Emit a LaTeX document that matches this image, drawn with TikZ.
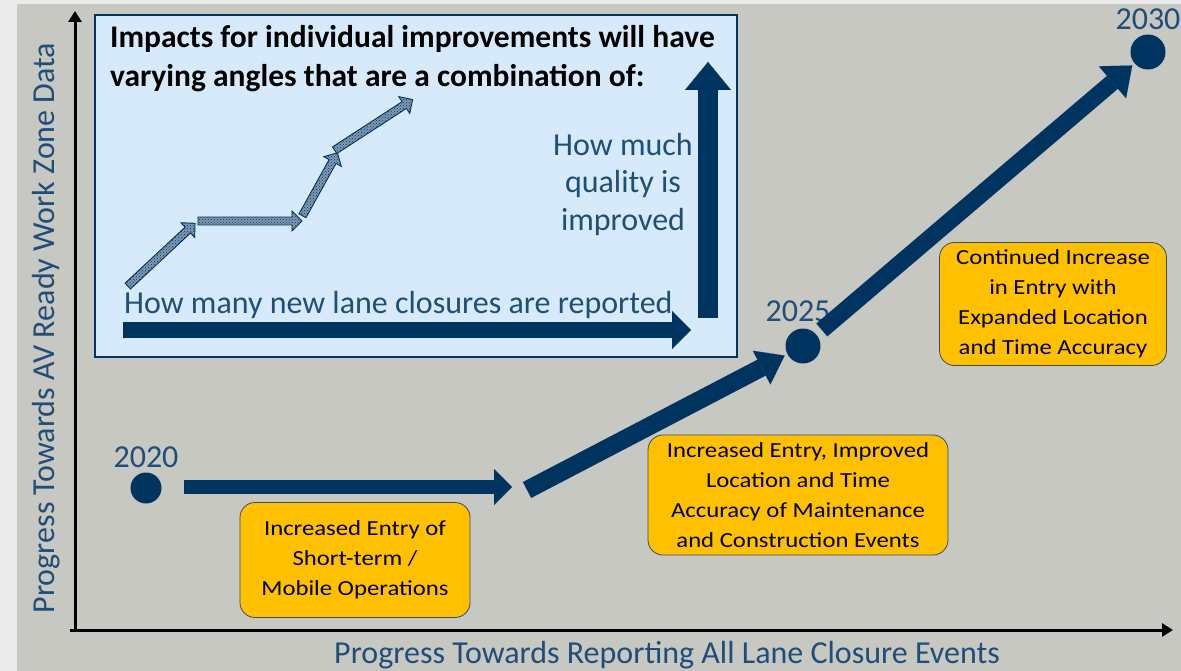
\documentclass[tikz,border=0pt]{standalone}
\usepackage{fontspec}
\setmainfont{Carlito}
\newfontfamily\boxfont[FakeStretch=1.15]{Carlito}
\usetikzlibrary{arrows.meta,shapes.arrows,patterns}
\definecolor{outerbg}{RGB}{235,235,235}
\definecolor{panelbg}{RGB}{200,200,194}
\definecolor{navy}{RGB}{0,52,96}
\definecolor{txtblue}{RGB}{31,78,121}
\definecolor{insetfill}{RGB}{214,234,251}
\definecolor{gold}{RGB}{255,192,0}
\definecolor{boxline}{RGB}{60,75,95}
\tikzset{
  yearlbl/.style={text=txtblue,font=\fontsize{32}{36}\selectfont,inner sep=0pt},
  yeardot/.style={circle,fill=navy,inner sep=0pt},
  goldbox/.style={draw=boxline,line width=0.8pt,fill=gold,rounded corners=15pt,align=center,font=\boxfont\fontsize{21.5}{30}\selectfont,inner sep=0pt},
  fatarrow/.style={draw=navy,line width=#1},
  patarrow/.style={single arrow,draw=navy,line width=0.9pt,preaction={fill=navy!50},pattern=crosshatch dots,pattern color=navy,minimum width=20pt,single arrow head extend=6pt,inner sep=3.5pt},
  axislbl/.style={text=txtblue,font=\fontsize{32}{36}\selectfont,inner sep=0pt},
}
\begin{document}
\begin{tikzpicture}[x=1pt,y=-1pt]
\useasboundingbox (0,0) rectangle (1181,671);
\fill[outerbg] (0,0) rectangle (1181,671);
\fill[panelbg] (17,4) rectangle (1181,671);
% axes
\coordinate (yb) at (75,632);
\coordinate (yt) at (75,11);
\coordinate (xl) at (70,630);
\coordinate (xr) at (1173,630);
\draw[line width=3pt,-{Triangle[width=13pt,length=11pt]}] (yb) -- (yt);
\draw[line width=3pt,-{Triangle[width=13pt,length=11pt]}] (xl) -- (xr);
\node[axislbl,rotate=90] (ylab) at (46,328) {Progress Towards AV Ready Work Zone Data};
\node[axislbl] (xlab) at (667,655) {Progress Towards Reporting All Lane Closure Events};
% inset
\node[draw=navy,line width=1.2pt,fill=insetfill,minimum width=642pt,minimum height=342pt,inner sep=0pt] (inset) at (416,186) {};
\node[anchor=base west,align=left,font=\bfseries\fontsize{31.5}{39}\selectfont,inner sep=0pt] (title) at (110,87) {Impacts for individual improvements will have\\varying angles that are a combination of:};
\node[text=txtblue,align=center,font=\fontsize{32}{37.5}\selectfont,inner sep=0pt] (qual) at (623,184) {How much\\quality is\\improved};
\node[text=txtblue,anchor=base west,font=\fontsize{32}{36}\selectfont,inner sep=0pt] (many) at (124,313) {How many new lane closures are reported};
\coordinate (hs) at (123,330);
\coordinate (he) at (691,330);
\draw[fatarrow=16pt,-{Triangle[width=38pt,length=19pt,line width=0.1pt]}] (hs) -- (he);
\coordinate (vs) at (708,318);
\coordinate (ve) at (708,62);
\draw[fatarrow=20pt,-{Triangle[width=46pt,length=28pt,line width=0.1pt]}] (vs) -- (ve);
% patterned staircase arrows
\node[patarrow,minimum height=92pt,rotate=43] (p1) at (160,256) {};
\node[patarrow,minimum height=104pt,rotate=0] (p2) at (248,221) {};
\node[patarrow,minimum height=72pt,rotate=61] (p3) at (319,186) {};
\node[patarrow,minimum height=93pt,rotate=33] (p4) at (372,126) {};
% timeline
\node[yeardot,minimum size=31pt] (c20) at (146,488) {};
\node[yeardot,minimum size=35pt] (c25) at (803,346) {};
\node[yeardot,minimum size=35pt] (c30) at (1148,52) {};
\node[yearlbl] (l20) at (146,457) {2020};
\node[yearlbl] (l25) at (798,311) {2025};
\node[yearlbl] (l30) at (1148,19) {2030};
\coordinate (a1e) at (512,487);
\coordinate (a2s) at (527,490);
\draw[fatarrow=14pt,shorten <=22pt,-{Triangle[width=36pt,length=18pt,line width=0.1pt]}] (c20.east |- a1e) -- (a1e);
\draw[fatarrow=18pt,shorten >=3pt,-{Triangle[width=38pt,length=26pt,line width=0.1pt]}] (a2s) -- (c25);
\draw[fatarrow=17pt,shorten <=7pt,shorten >=3pt,-{Triangle[width=42pt,length=26pt,line width=0.1pt]}] (c25) -- (c30);
% boxes
\node[goldbox,minimum width=230pt,minimum height=115pt] (b1) at (355,560) {Increased Entry of\\Short-term /\\Mobile Operations};
\node[goldbox,minimum width=300pt,minimum height=120pt] (b2) at (798,495) {Increased Entry, Improved\\Location and Time\\Accuracy of Maintenance\\and Construction Events};
\node[goldbox,minimum width=227pt,minimum height=123pt] (b3) at (1053,304) {Continued Increase\\in Entry with\\Expanded Location\\and Time Accuracy};
\end{tikzpicture}
\end{document}
